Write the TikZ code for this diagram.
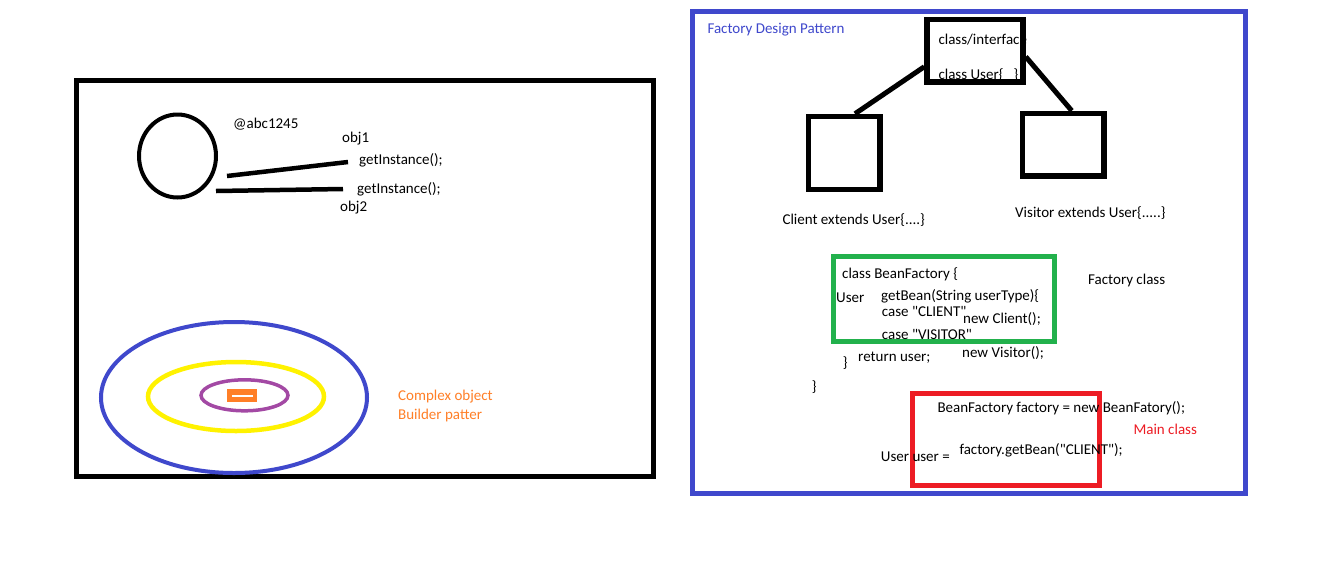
\documentclass[tikz,border=0pt]{standalone}
\usepackage{fontspec}
\newfontfamily\pfont{Carlito}
\definecolor{pblue}{HTML}{3F48CC}
\definecolor{pyellow}{HTML}{FFF200}
\definecolor{ppurple}{HTML}{A349A4}
\definecolor{porange}{HTML}{FF7F27}
\definecolor{pgreen}{HTML}{22B14C}
\definecolor{pred}{HTML}{ED1C24}
\begin{document}
\begin{tikzpicture}[x=1pt,y=-1pt,
  txt/.style={anchor=west,inner sep=0pt,font=\pfont\fontsize{15}{18}\selectfont},
  frame/.style={line width=5pt},
  classbox/.style={draw=black,line width=5.5pt,inner sep=0pt},
  link/.style={line width=5pt}]
\useasboundingbox[fill=white] (0,0) rectangle (1330,574);

% ---------- left panel ----------
\draw[frame,black] (76.5,80) rectangle (653,476);
\draw[line width=4pt] (177.5,156) ellipse [x radius=38.5, y radius=41.5];
\coordinate (l1a) at (227,176); \coordinate (l1b) at (348,162);
\coordinate (l2a) at (216,191); \coordinate (l2b) at (343,189);
\draw[line width=4.5pt] (l1a) -- (l1b);
\draw[line width=4.5pt] (l2a) -- (l2b);
\node[txt] (addr) at (233,124) {@abc1245};
\node[txt] (obj1) at (342,139) {obj1};
\node[txt] (gi1) at (359,160) {getInstance();};
\node[txt] (gi2) at (357,189) {getInstance();};
\node[txt] (obj2) at (340,208) {obj2};

\draw[pblue,line width=4pt] (234,397.5) ellipse [x radius=133, y radius=75.5];
\draw[pyellow,line width=4.5pt] (236,396.5) ellipse [x radius=88, y radius=34.5];
\draw[ppurple,line width=3.5pt] (244.5,395.3) ellipse [x radius=43.5, y radius=15.5];
\fill[porange] (226.7,389.3) rectangle (256.7,401.7);
\fill[white] (231.7,394.6) rectangle (253.3,396.8);
\node[txt,text=porange] (cplx) at (398,397) {Complex object};
\node[txt,text=porange] (bld) at (398,415) {Builder patter};

% ---------- right panel ----------
\draw[frame,pblue] (692.5,11.5) rectangle (1245.3,493.3);
\node[txt,text=pblue] (title) at (707.3,29.3) {Factory Design Pattern};

\node[classbox,minimum width=96pt,minimum height=62.5pt] (top) at (975,50.75) {};
\node[txt] (ci) at (938.3,40) {class/interface};
\node[txt] (cu) at (938.3,75) {class User\{\ \ \ \}};
\node[classbox,minimum width=71.5pt,minimum height=73pt] (cl) at (844.25,153) {};
\node[classbox,minimum width=81.5pt,minimum height=62.5pt] (vi) at (1063.25,144.75) {};
\draw[link] ([yshift=-16pt]top.west) -- ([xshift=10.75pt]cl.north);
\draw[link] ([yshift=-6pt]top.east) -- ([xshift=8.5pt]vi.north);
\node[txt] (clt) at (782.3,220) {Client extends User\{....\}};
\node[txt] (vit) at (1015,212.7) {Visitor extends User\{.....\}};

% factory class
\draw[frame,pgreen] (833.5,256.5) rectangle (1054,341.5);
\node[txt] (bf) at (842,274) {class BeanFactory \{};
\node[txt] (usr) at (836,298) {User};
\node[txt] (gb) at (881,296.7) {getBean(String userType)\{};
\node[txt] (cc) at (881.7,311) {case "CLIENT"};
\node[txt] (nc) at (963,319) {new Client();};
\node[txt] (cv) at (881.7,334) {case "VISITOR"};
\node[txt] (ret) at (858,358) {return user;};
\node[txt] (rb1) at (842.7,363) {\}};
\node[txt] (nv) at (962,352.7) {new Visitor();};
\node[txt] (rb2) at (811.7,386.7) {\}};
\node[txt] (fc) at (1088,280.7) {Factory class};

% main class
\draw[frame,pred] (912,393.5) rectangle (1099,485);
\node[txt] (bfn) at (937.3,408.3) {BeanFactory factory = new BeanFatory();};
\node[txt,text=pred] (mc) at (1133.3,429.3) {Main class};
\node[txt] (uu) at (880.7,456.7) {User user =};
\node[txt] (fg) at (959.3,450) {factory.getBean("CLIENT");};
\end{tikzpicture}
\end{document}
